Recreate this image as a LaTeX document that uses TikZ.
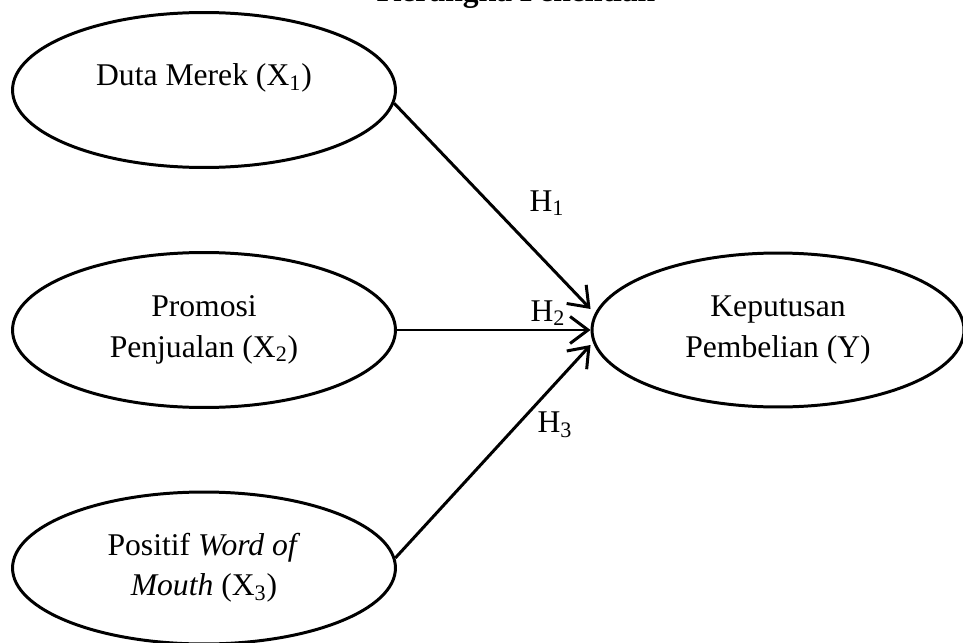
\documentclass[tikz,border=0pt]{standalone}
\usepackage{fontspec}
\setmainfont{Liberation Serif}
\usetikzlibrary{arrows.meta,shapes.geometric}
\tikzstyle{var}=[ellipse,draw,line width=1.7pt,minimum width=7.66cm,minimum height=3.1cm,inner sep=0pt,align=center,font=\fontsize{18}{23}\selectfont]
\tikzstyle{hyp}=[font=\fontsize{18}{23}\selectfont,inner sep=0pt]
\tikzstyle{edge} = [draw,line width=1.7pt,-{Straight Barb[length=3.6mm,width=5.4mm]}]

\begin{document}
\begin{tikzpicture}[x=0.02cm,y=-0.02cm]
    \useasboundingbox (0,0) rectangle (963,642);

    \node[anchor=base, font=\fontsize{18}{23}\selectfont\bfseries] (title) at (516,2) {Kerangka Penelitian};

    \node[var, text depth=0.6cm] (dm) at (204,90) {Duta Merek (X\textsubscript{1})};
    \node[var] (pp) at (204,330) {Promosi\\Penjualan (X\textsubscript{2})};
    \node[var, minimum height=3.04cm] (wom) at (204,568) {Positif \textit{Word of}\\\textit{Mouth} (X\textsubscript{3})};
    \node[var, minimum width=7.44cm, minimum height=3.08cm] (kp) at (778,330) {Keputusan\\Pembelian (Y)};

    \path[edge] (dm.-4) -- ([yshift=0.42cm]kp.west);
    \path[edge] (pp.east) -- (kp.west);
    \path[edge] (wom.3) -- ([yshift=-0.3cm]kp.west);

    \foreach \pos/\name/\idx in {{(547,203)/h1/1}, {(548,313)/h2/2}, {(555,425)/h3/3}}
        \node[hyp] (\name) at \pos {H\textsubscript{\idx}};

\end{tikzpicture}
\end{document}
